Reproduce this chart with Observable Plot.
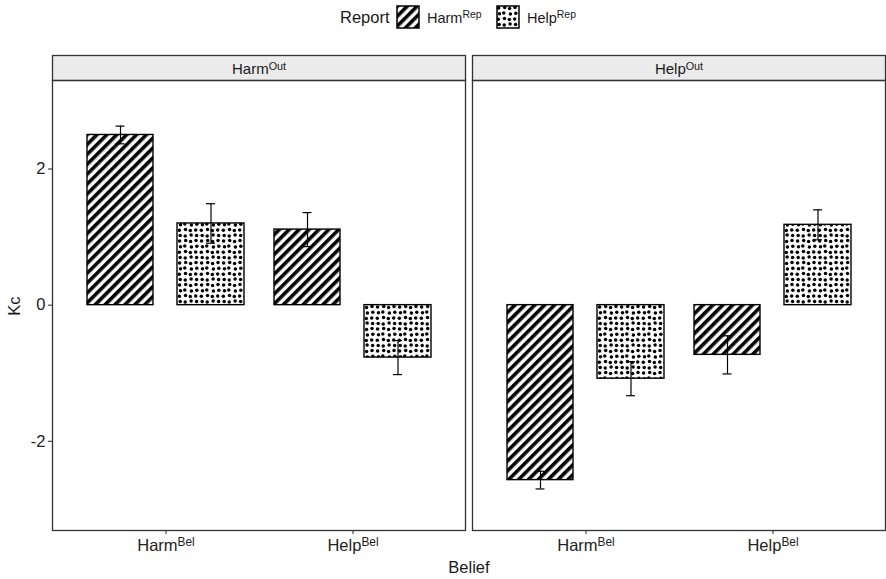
<!DOCTYPE html>
<html>
<head>
<meta charset="utf-8">
<script src="https://cdn.jsdelivr.net/npm/d3@7"></script>
<script src="https://cdn.jsdelivr.net/npm/@observablehq/plot@0.6"></script>
<style>
  html, body { margin: 0; padding: 0; background: white; }
  body { position: relative; width: 886px; height: 579px; overflow: hidden;
         font-family: "Liberation Sans", Arial, sans-serif; color: #1a1a1a; }
  #chart { position: absolute; left: 0; top: 40px; }
  .abs { position: absolute; white-space: nowrap; line-height: 1; }
  sup { font-size: 0.72em; vertical-align: 0; position: relative; top: -0.5em; }
</style>
</head>
<body>
<svg width="0" height="0" style="position:absolute">
  <defs>
    <pattern id="hatch" width="7" height="7" patternUnits="userSpaceOnUse" patternTransform="rotate(45)">
      <rect width="7" height="7" fill="white"></rect>
      <rect width="3.6" height="7" fill="black"></rect>
    </pattern>
    <pattern id="dots" width="22" height="22" patternUnits="userSpaceOnUse">
      <rect width="22" height="22" fill="white"></rect>
      <g fill="black">
        <circle cx="2.6" cy="3.1" r="1.75"></circle><circle cx="8.7" cy="2.4" r="1.75"></circle>
        <circle cx="13.6" cy="3.6" r="1.75"></circle><circle cx="19.0" cy="2.6" r="1.75"></circle>
        <circle cx="3.5" cy="8.7" r="1.75"></circle><circle cx="7.8" cy="8.0" r="1.75"></circle>
        <circle cx="14.4" cy="8.9" r="1.75"></circle><circle cx="19.8" cy="8.2" r="1.75"></circle>
        <circle cx="2.3" cy="14.2" r="1.75"></circle><circle cx="8.5" cy="13.6" r="1.75"></circle>
        <circle cx="13.3" cy="14.4" r="1.75"></circle><circle cx="18.7" cy="13.9" r="1.75"></circle>
        <circle cx="3.2" cy="19.5" r="1.75"></circle><circle cx="8.2" cy="19.9" r="1.75"></circle>
        <circle cx="14.1" cy="18.9" r="1.75"></circle><circle cx="19.6" cy="19.6" r="1.75"></circle>
      </g>
    </pattern>
  </defs>
</svg>

<div id="legend"></div>
<div id="chart"></div>

<script>
// ---------- data ----------
const outcomes = ["Harm^Out", "Help^Out"];
const beliefs = ["Harm^Bel", "Help^Bel"];
const reports = ["Harm^Rep", "Help^Rep"];
const yTicks = [-2, 0, 2];
// values in order: outcome > belief > report
const kcValues = [2.50, 1.20, 1.11, -0.77, -2.57, -1.08, -0.73, 1.18];
const kcErrors = [0.13, 0.29, 0.25, 0.25, 0.13, 0.25, 0.28, 0.22];

const rows = [];
let k = 0;
for (const o of outcomes) for (const b of beliefs) for (const r of reports) {
  rows.push({outcome: o, belief: b, report: r, kc: kcValues[k], lo: kcValues[k] - kcErrors[k], hi: kcValues[k] + kcErrors[k]});
  k++;
}
const harmRows = rows.filter(d => d.report === reports[0]);
const helpRows = rows.filter(d => d.report === reports[1]);

const fills = {[reports[0]]: "url(#hatch)", [reports[1]]: "url(#dots)"};

// ---------- layout (style) ----------
const W = 886, H = 539, mT = 40, mB = 49, mL = 51, mR = 1;
const panelH = H - mT - mB;
const inset = {
  [reports[0]]: {bar: [15, 106], cap: [43.5, 134.5], dx: -45.5},
  [reports[1]]: {bar: [105, 15], cap: [134, 44], dx: 45}
};

function seriesMarks(data, rep) {
  const s = inset[rep];
  return [
    Plot.barY(data, {fx: "outcome", x: "belief", y1: 0, y2: "kc", fill: fills[rep],
      stroke: "black", strokeWidth: 1.4, insetLeft: s.bar[0], insetRight: s.bar[1]}),
    Plot.ruleX(data, {fx: "outcome", x: "belief", y1: "lo", y2: "hi", dx: s.dx, stroke: "black", strokeWidth: 1.2}),
    Plot.tickY(data, {fx: "outcome", x: "belief", y: "hi", stroke: "black", strokeWidth: 1.2, insetLeft: s.cap[0], insetRight: s.cap[1]}),
    Plot.tickY(data, {fx: "outcome", x: "belief", y: "lo", stroke: "black", strokeWidth: 1.2, insetLeft: s.cap[0], insetRight: s.cap[1]})
  ];
}

const chart = Plot.plot({
  width: W, height: H, marginTop: mT, marginBottom: mB, marginLeft: mL, marginRight: mR,
  style: {fontFamily: "'Liberation Sans', Arial, sans-serif", fontSize: "16.5px", color: "#222", background: "white", overflow: "visible"},
  fx: {domain: outcomes, paddingInner: 0.0167, paddingOuter: 0, axis: null, label: null},
  x: {domain: beliefs, paddingInner: 0, paddingOuter: 0.1, align: 0.5, label: null, tickSize: 4, tickPadding: 5},
  y: {domain: [-3.31, 3.30], ticks: yTicks, tickFormat: d => String(d), tickSize: 4, tickPadding: 3, label: null},
  marks: [
    Plot.frame({fill: "#ebebeb", stroke: "#333", strokeWidth: 1.3, insetTop: -25, insetBottom: panelH}),
    Plot.frame({stroke: "#333", strokeWidth: 1.3}),
    Plot.text(outcomes, {fx: d => d, text: d => d, frameAnchor: "top", dy: -17, fontSize: 15, fill: "#1a1a1a"}),
    ...seriesMarks(harmRows, reports[0]),
    ...seriesMarks(helpRows, reports[1])
  ]
});
document.getElementById("chart").appendChild(chart);

// superscripts: "Base^Sup" -> Base<tspan>Sup</tspan>
function supify(root) {
  const walker = document.createTreeWalker(root, NodeFilter.SHOW_TEXT);
  const nodes = [];
  while (walker.nextNode()) if (walker.currentNode.data.includes("^")) nodes.push(walker.currentNode);
  for (const n of nodes) {
    const [base, sup] = n.data.split("^");
    const parent = n.parentNode;
    const ns = "http://www.w3.org/2000/svg";
    const t1 = document.createTextNode(base);
    const ts = document.createElementNS(ns, "tspan");
    ts.setAttribute("dy", "-0.42em");
    ts.setAttribute("font-size", "0.72em");
    ts.textContent = sup;
    parent.replaceChild(t1, n);
    parent.insertBefore(ts, t1.nextSibling);
  }
}
supify(chart);

// HTML helpers for legend / titles
function htmlSup(s) { const [a, b] = s.split("^"); return a + "<sup>" + b + "</sup>"; }
function place(html, left, top, size, extra) {
  const d = document.createElement("div");
  d.className = "abs";
  d.style.left = left + "px"; d.style.top = top + "px"; d.style.fontSize = size + "px";
  if (extra) Object.assign(d.style, extra);
  d.innerHTML = html;
  document.body.appendChild(d);
  return d;
}
function swatch(fill, left, top) {
  const ns = "http://www.w3.org/2000/svg";
  const s = document.createElementNS(ns, "svg");
  s.setAttribute("width", 24); s.setAttribute("height", 24);
  s.style.position = "absolute"; s.style.left = left + "px"; s.style.top = top + "px";
  const r = document.createElementNS(ns, "rect");
  r.setAttribute("x", 1); r.setAttribute("y", 1); r.setAttribute("width", 22); r.setAttribute("height", 22);
  r.setAttribute("fill", fill); r.setAttribute("stroke", "black"); r.setAttribute("stroke-width", 1.5);
  s.appendChild(r);
  document.body.appendChild(s);
}

// legend
place("Report", 340, 9, 16.5);
swatch(fills[reports[0]], 396, 5);
place(htmlSup(reports[0]), 427, 11, 14.5);
swatch(fills[reports[1]], 496, 5);
place(htmlSup(reports[1]), 527, 11, 14.5);

// axis titles
place("Kc", 5, 306, 16.5, {transform: "translate(0,-50%) rotate(-90deg)", transformOrigin: "50% 50%"});
place("Belief", 469, 559, 16.5, {transform: "translateX(-50%)"});
</script>
</body>
</html>
